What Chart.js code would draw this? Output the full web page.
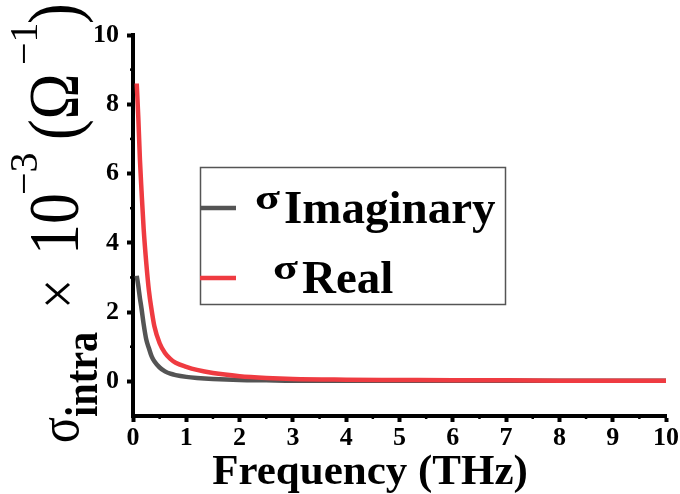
<!DOCTYPE html>
<html>
<head>
<meta charset="utf-8">
<script src="https://cdn.jsdelivr.net/npm/chart.js@4.4.1/dist/chart.umd.min.js"></script>
<style>
  html, body { margin: 0; padding: 0; background: #fff; }
  #wrap { width: 680px; height: 494px; }
</style>
</head>
<body>
<div id="wrap"><canvas id="sigmaChart" width="680" height="494"></canvas></div>
<script>
// frequency in THz
var freq = [0.07, 0.1, 0.13, 0.16, 0.2, 0.25, 0.3, 0.35, 0.4, 0.5, 0.6, 0.7, 0.8,
  1.0, 1.2, 1.5, 2, 2.5, 3, 4, 5, 6, 7, 8, 9, 10];
// sigma_intra x 10^-3 (1/ohm)
var sigmaReal = [8.6, 7.6, 6.4, 5.5, 4.4, 3.4, 2.6, 2.05, 1.6, 1.1, 0.82, 0.65, 0.54,
  0.42, 0.33, 0.24, 0.15, 0.1, 0.07, 0.05, 0.04, 0.03, 0.03, 0.02, 0.02, 0.02];
var sigmaImag = [3.05, 2.75, 2.4, 2.1, 1.65, 1.2, 0.95, 0.72, 0.58, 0.4, 0.29, 0.22, 0.18,
  0.13, 0.1, 0.07, 0.04, 0.03, 0.02, 0.02, 0.02, 0.02, 0.02, 0.02, 0.02, 0.02];

var xTicks = [0, 1, 2, 3, 4, 5, 6, 7, 8, 9, 10];
var xMinorTicks = [0.5, 1.5, 2.5, 3.5, 4.5, 5.5, 6.5, 7.5, 8.5, 9.5];
var yTicks = [0, 2, 4, 6, 8, 10];
var yMinorTicks = [1, 3, 5, 7, 9];

var legendItems = [
  { name: "Imaginary", color: "#545454" },
  { name: "Real", color: "#ef3b41" }
];

var serif = "'Liberation Serif', serif";

function toPoints(xs, ys) {
  return xs.map(function (x, i) {
    return { x: x, y: ys[i] };
  });
}

//minor ticks, axis titles, legend box
var decorPlugin = {
  id: "decor",
  afterDraw: function (chart) {
    var ctx = chart.ctx;
    var xs = chart.scales.x;
    var ys = chart.scales.y;
    var area = chart.chartArea;

    ctx.save();
    ctx.strokeStyle = "#000";
    ctx.lineWidth = 2.5;
    xMinorTicks.forEach(function (v) {
      var px = xs.getPixelForValue(v);
      ctx.beginPath();
      ctx.moveTo(px, area.bottom);
      ctx.lineTo(px, area.bottom + 3);
      ctx.stroke();
    });
    yMinorTicks.forEach(function (v) {
      var py = ys.getPixelForValue(v);
      ctx.beginPath();
      ctx.moveTo(area.left, py);
      ctx.lineTo(area.left - 3, py);
      ctx.stroke();
    });

    // x title
    ctx.fillStyle = "#000";
    ctx.font = "bold 43px " + serif;
    ctx.textAlign = "center";
    ctx.textBaseline = "alphabetic";
    ctx.fillText("Frequency (THz)", 370, 484);

    // y title, rotated, built from pieces
    var parts = [
      { text: "\u03c3", font: "56px " + serif, t: 2, dy: 0, sx: 0.86 },
      { text: "intra", font: "bold 47px " + serif, t: 28, dy: 19, sx: 0.86 },
      { text: "\u00d7", font: "62px " + serif, t: 136, dy: 0, sx: 0.86 },
      { text: "10", font: "72px " + serif, t: 190, dy: 0, sx: 0.86 },
      { text: "\u22123", font: "40px " + serif, t: 250, dy: -41, sx: 1 },
      { text: "(\u03a9", font: "72px " + serif, t: 305, dy: 0, sx: 0.86 },
      { text: "\u22121", font: "40px " + serif, t: 380, dy: -41, sx: 1 },
      { text: ")", font: "72px " + serif, t: 421, dy: 0, sx: 0.86 }
    ];
    ctx.save();
    ctx.translate(78, 445);
    ctx.rotate(-Math.PI / 2);
    ctx.textAlign = "left";
    parts.forEach(function (p) {
      ctx.save();
      ctx.translate(p.t, p.dy);
      ctx.scale(p.sx, 1);
      ctx.font = p.font;
      ctx.fillText(p.text, 0, 0);
      ctx.restore();
    });
    ctx.restore();

    // legend
    var bx = 200, by = 167, bw = 305, bh = 137;
    ctx.strokeStyle = "#555";
    ctx.lineWidth = 1.5;
    ctx.strokeRect(bx + 0.5, by + 0.5, bw, bh);
    var rows = [
      { y: 208, sigmaX: 255, sigmaY: 209, textX: 284, textY: 223 },
      { y: 278, sigmaX: 273, sigmaY: 279, textX: 302, textY: 293 }
    ];
    legendItems.forEach(function (item, i) {
      var r = rows[i];
      ctx.strokeStyle = item.color;
      ctx.lineWidth = 4.5;
      ctx.beginPath();
      ctx.moveTo(bx, r.y);
      ctx.lineTo(bx + 36, r.y);
      ctx.stroke();
      ctx.fillStyle = "#000";
      ctx.textAlign = "left";
      ctx.save();
      ctx.translate(r.sigmaX, r.sigmaY);
      ctx.scale(1.35, 1);
      ctx.font = "bold 34px " + serif;
      ctx.fillText("\u03c3", 0, 0);
      ctx.restore();
      ctx.font = "bold 47px " + serif;
      ctx.fillText(item.name, r.textX, r.textY);
    });
    ctx.restore();
  }
};

var ctx = document.getElementById("sigmaChart").getContext("2d");
var sigmaChart = new Chart(ctx, {
  type: "scatter",
  data: {
    datasets: [
      {
        label: "\u03c3Real",
        data: toPoints(freq, sigmaReal),
        borderColor: legendItems[1].color,
        borderWidth: 4.5,
        showLine: true,
        pointRadius: 0,
        cubicInterpolationMode: "monotone"
      },
      {
        label: "\u03c3Imaginary",
        data: toPoints(freq, sigmaImag),
        borderColor: legendItems[0].color,
        borderWidth: 4.5,
        showLine: true,
        pointRadius: 0,
        cubicInterpolationMode: "monotone"
      }
    ]
  },
  options: {
    responsive: false,
    animation: false,
    layout: { padding: { top: 35, right: 10, left: 0, bottom: 0 } },
    plugins: {
      legend: { display: false },
      tooltip: { enabled: false }
    },
    scales: {
      x: {
        type: "linear",
        min: 0,
        max: 10,
        afterBuildTicks: function (scale) {
          scale.ticks = xTicks.map(function (v) { return { value: v }; });
        },
        afterFit: function (scale) {
          scale.height = 78;
        },
        border: { display: true, color: "#000", width: 4 },
        grid: {
          display: true,
          drawOnChartArea: false,
          drawTicks: true,
          tickLength: 6,
          tickWidth: 4,
          tickColor: "#000"
        },
        ticks: {
          color: "#000",
          padding: 1,
          maxRotation: 0,
          font: { family: serif, size: 26, weight: "bold" }
        }
      },
      y: {
        type: "linear",
        min: -1,
        max: 10,
        afterBuildTicks: function (scale) {
          scale.ticks = yTicks.map(function (v) { return { value: v }; });
        },
        afterFit: function (scale) {
          scale.width = 133;
        },
        border: { display: true, color: "#000", width: 4 },
        grid: {
          display: true,
          drawOnChartArea: false,
          drawTicks: true,
          tickLength: 6,
          tickWidth: 4,
          tickColor: "#000"
        },
        ticks: {
          color: "#000",
          padding: 8,
          font: { family: serif, size: 26, weight: "bold" }
        }
      }
    }
  },
  plugins: [decorPlugin]
});
</script>
</body>
</html>
